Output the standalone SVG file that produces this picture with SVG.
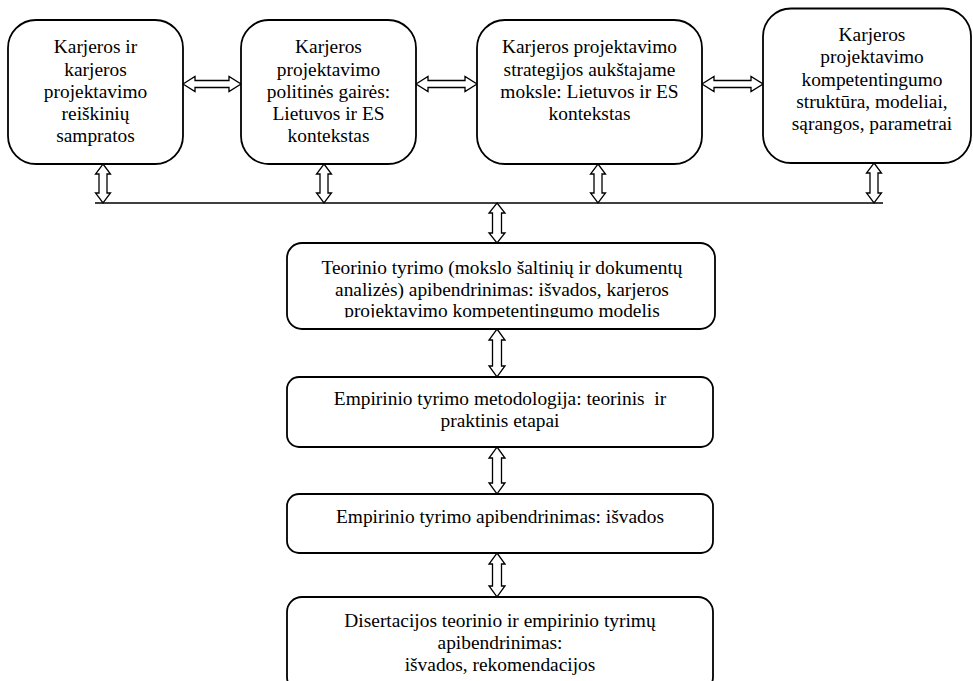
<svg xmlns="http://www.w3.org/2000/svg" width="973" height="681" viewBox="0 0 973 681">
  <style>
    .box { fill: #ffffff; stroke: #000000; stroke-width: 1.8; }
    .arrow { fill: #ffffff; stroke: #000000; stroke-width: 1.3; stroke-linejoin: miter; }
    .bus { stroke: #000000; stroke-width: 1.5; fill: none; }
    .lbl { font-size: 19.4px; fill: #000000; text-anchor: middle; }
  </style>
  <defs>
    <clipPath id="clip-teorinis">
      <rect x="287" y="243" width="428" height="74.5"/>
    </clipPath>
  </defs>
  <rect width="973" height="681" fill="#ffffff"/>

  <!-- connectors -->
  <g id="connectors">
    <!-- horizontal double arrows between the top boxes -->
    <path class="arrow" d="M183 84 L195 76.5 L195 80.5 L229 80.5 L229 76.5 L241 84 L229 91.5 L229 87.5 L195 87.5 L195 91.5 Z"/>
    <path class="arrow" d="M416 84 L428 76.5 L428 80.5 L465 80.5 L465 76.5 L477 84 L465 91.5 L465 87.5 L428 87.5 L428 91.5 Z"/>
    <path class="arrow" d="M702 84 L714 76.5 L714 80.5 L751 80.5 L751 76.5 L763 84 L751 91.5 L751 87.5 L714 87.5 L714 91.5 Z"/>
    <!-- collecting line -->
    <line class="bus" x1="95" y1="203" x2="883" y2="203"/>
    <!-- vertical double arrows from the top boxes -->
    <path class="arrow" d="M103 164 L110.5 174 L107 174 L107 193 L110.5 193 L103 203 L95.5 193 L99 193 L99 174 L95.5 174 Z"/>
    <path class="arrow" d="M324 164 L331.5 174 L328 174 L328 193 L331.5 193 L324 203 L316.5 193 L320 193 L320 174 L316.5 174 Z"/>
    <path class="arrow" d="M598 164 L605.5 174 L602 174 L602 193 L605.5 193 L598 203 L590.5 193 L594 193 L594 174 L590.5 174 Z"/>
    <path class="arrow" d="M874 163 L881.5 173 L878 173 L878 193 L881.5 193 L874 203 L866.5 193 L870 193 L870 173 L866.5 173 Z"/>
    <!-- vertical double arrows down the central column -->
    <path class="arrow" d="M497 203 L505 213 L501.5 213 L501.5 233 L505 233 L497 243 L489 233 L492.5 233 L492.5 213 L489 213 Z"/>
    <path class="arrow" d="M497 329 L505 340 L501.5 340 L501.5 366 L505 366 L497 377 L489 366 L492.5 366 L492.5 340 L489 340 Z"/>
    <path class="arrow" d="M497 447 L505 458 L501.5 458 L501.5 483 L505 483 L497 494 L489 483 L492.5 483 L492.5 458 L489 458 Z"/>
    <path class="arrow" d="M497 553 L505 564 L501.5 564 L501.5 586 L505 586 L497 597 L489 586 L492.5 586 L492.5 564 L489 564 Z"/>
  </g>

  <g font-family="'Liberation Serif', 'Times New Roman', 'DejaVu Serif', serif">
  <g id="samprata">
    <rect class="box" x="8" y="20" width="175" height="144" rx="28" ry="28"/>
    <text class="lbl" x="95.5" y="53.3">Karjeros ir</text>
    <text class="lbl" x="95.5" y="75.5">karjeros</text>
    <text class="lbl" x="95.5" y="97.5">projektavimo</text>
    <text class="lbl" x="95.5" y="119.5">reiškinių</text>
    <text class="lbl" x="95.5" y="141.7">sampratos</text>
  </g>

  <g id="politika">
    <rect class="box" x="241" y="20" width="175" height="144" rx="28" ry="28"/>
    <text class="lbl" x="328.5" y="53.3">Karjeros</text>
    <text class="lbl" x="328.5" y="75.5">projektavimo</text>
    <text class="lbl" x="328.5" y="97.5">politinės gairės:</text>
    <text class="lbl" x="328.5" y="119.5">Lietuvos ir ES</text>
    <text class="lbl" x="328.5" y="141.7">kontekstas</text>
  </g>

  <g id="strategijos">
    <rect class="box" x="477" y="20" width="225" height="144" rx="28" ry="28"/>
    <text class="lbl" x="589.5" y="53.3">Karjeros projektavimo</text>
    <text class="lbl" x="589.5" y="75.5">strategijos aukštajame</text>
    <text class="lbl" x="589.5" y="97.5">moksle: Lietuvos ir ES</text>
    <text class="lbl" x="589.5" y="119.5">kontekstas</text>
  </g>

  <g id="kompetentingumas">
    <rect class="box" x="763" y="8.5" width="208" height="154.5" rx="28" ry="28"/>
    <text class="lbl" x="872" y="40.7">Karjeros</text>
    <text class="lbl" x="872" y="63">projektavimo</text>
    <text class="lbl" x="872" y="85.5">kompetentingumo</text>
    <text class="lbl" x="872" y="107.7">struktūra, modeliai,</text>
    <text class="lbl" x="872" y="130">sąrangos, parametrai</text>
  </g>

  <g id="teorinis-apibendrinimas">
    <rect class="box" x="287" y="243" width="428" height="86" rx="15" ry="15"/>
    <g clip-path="url(#clip-teorinis)">
      <text class="lbl" x="502" y="274">Teorinio tyrimo (mokslo šaltinių ir dokumentų</text>
      <text class="lbl" x="502" y="295.5">analizės) apibendrinimas: išvados, karjeros</text>
      <text class="lbl" x="502" y="317">projektavimo kompetentingumo modelis</text>
    </g>
  </g>

  <g id="metodologija">
    <rect class="box" x="287" y="377" width="426" height="70" rx="12" ry="12"/>
    <text class="lbl" x="500" y="405" xml:space="preserve">Empirinio tyrimo metodologija: teorinis  ir</text>
    <text class="lbl" x="500" y="427">praktinis etapai</text>
  </g>

  <g id="empirinis-apibendrinimas">
    <rect class="box" x="287" y="494" width="426" height="59" rx="12" ry="12"/>
    <text class="lbl" x="500" y="523">Empirinio tyrimo apibendrinimas: išvados</text>
  </g>

  <g id="disertacijos-apibendrinimas">
    <rect class="box" x="287" y="597" width="426" height="95" rx="15" ry="15"/>
    <text class="lbl" x="500" y="626.5">Disertacijos teorinio ir empirinio tyrimų</text>
    <text class="lbl" x="500" y="648.5">apibendrinimas:</text>
    <text class="lbl" x="500" y="670.5">išvados, rekomendacijos</text>
  </g>
  </g>
</svg>
